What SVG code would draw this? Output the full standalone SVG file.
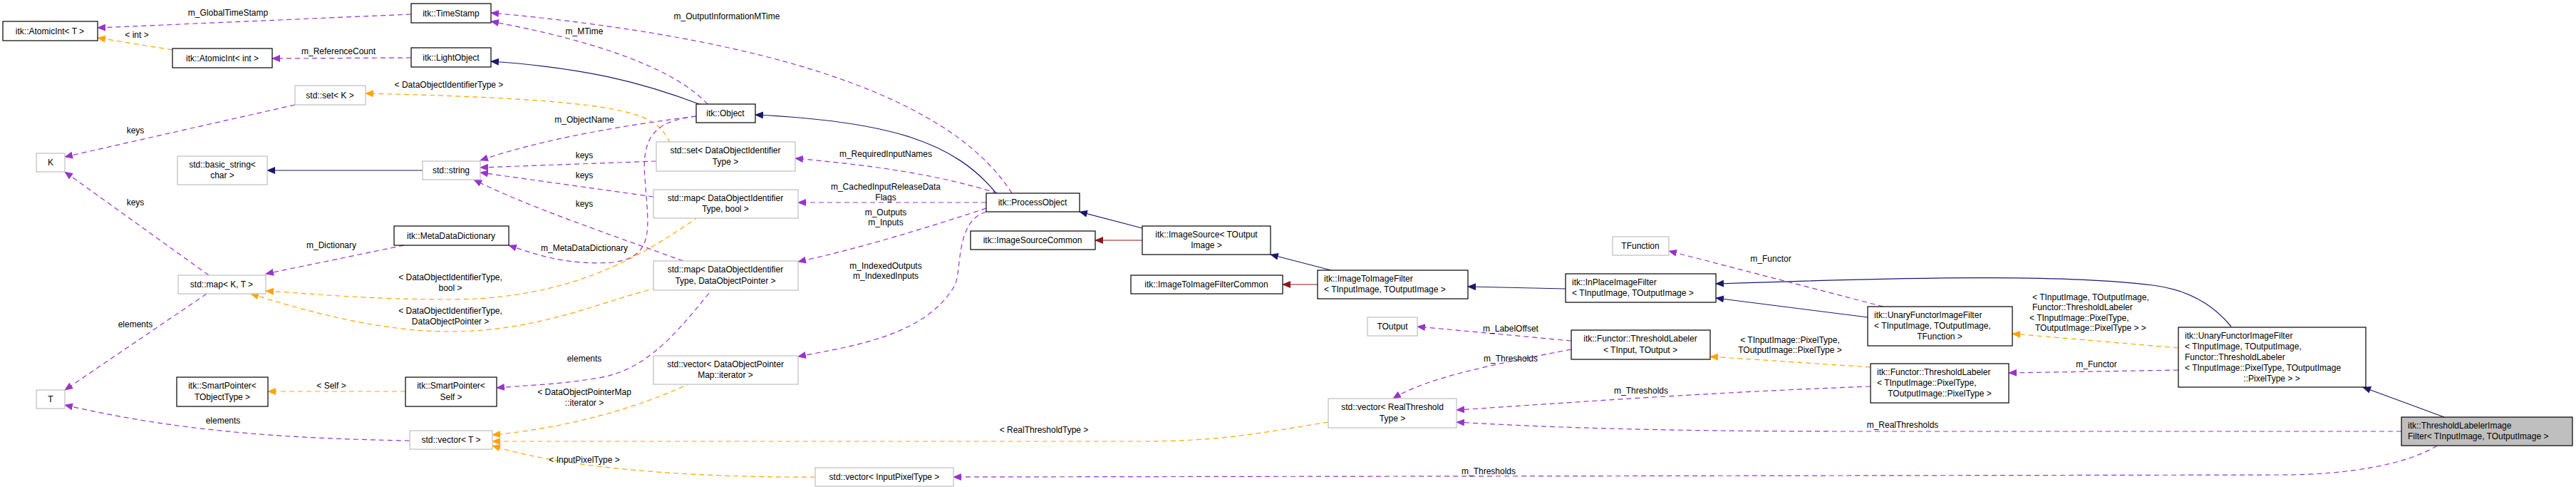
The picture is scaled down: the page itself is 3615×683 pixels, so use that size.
<svg xmlns="http://www.w3.org/2000/svg" width="3615" height="683" viewBox="0 0 3615 683">
<style>
text{font-family:"Liberation Sans",Arial,sans-serif;font-size:12px;fill:#000}
.c{text-anchor:middle}
.b{fill:#fff;stroke:#000;stroke-width:1.2}
.g{fill:#fff;stroke:#bfbfbf;stroke-width:1.2}
.h{fill:#bfbfbf;stroke:#000;stroke-width:1.2}
.u{fill:none;stroke:#9a32cd;stroke-width:1.2;stroke-dasharray:7,5}
.t{fill:none;stroke:#ffa500;stroke-width:1.2;stroke-dasharray:7,5}
.i{fill:none;stroke:#191970;stroke-width:1.2}
.r{fill:none;stroke:#8b1a1a;stroke-width:1.2}
</style>
<defs>
<marker id="mu" markerWidth="12" markerHeight="10" refX="11" refY="5" orient="auto" markerUnits="userSpaceOnUse"><path d="M0,0L12,5L0,10z" fill="#9a32cd"/></marker>
<marker id="mt" markerWidth="12" markerHeight="10" refX="11" refY="5" orient="auto" markerUnits="userSpaceOnUse"><path d="M0,0L12,5L0,10z" fill="#ffa500"/></marker>
<marker id="mi" markerWidth="12" markerHeight="10" refX="11" refY="5" orient="auto" markerUnits="userSpaceOnUse"><path d="M0,0L12,5L0,10z" fill="#191970"/></marker>
<marker id="mr" markerWidth="12" markerHeight="10" refX="11" refY="5" orient="auto" markerUnits="userSpaceOnUse"><path d="M0,0L12,5L0,10z" fill="#8b1a1a"/></marker>
</defs>
<g id="edges">
<path class="u" marker-end="url(#mu)" d="M577,20 L137,39"/>
<text class="c" x="320" y="22">m_GlobalTimeStamp</text>
<path class="t" marker-end="url(#mt)" d="M242,70 L137,53"/>
<text class="c" x="192" y="53">&lt; int &gt;</text>
<path class="u" marker-end="url(#mu)" d="M577,81 L382,82"/>
<text class="c" x="475" y="76">m_ReferenceCount</text>
<path class="i" marker-end="url(#mi)" d="M984,147 C900,115 820,95 689,86"/>
<path class="u" marker-end="url(#mu)" d="M993,146 C950,100 850,60 689,30"/>
<text class="c" x="820" y="48">m_MTime</text>
<path class="u" marker-end="url(#mu)" d="M1420,271 C1350,160 1150,60 689,18"/>
<text class="c" x="1020" y="27">m_OutputInformationMTime</text>
<path class="i" marker-end="url(#mi)" d="M1398,271 C1340,200 1250,170 1060,161"/>
<path class="t" marker-end="url(#mt)" d="M940,200 C920,160 900,140 513,131"/>
<text class="c" x="630" y="123">&lt; DataObjectIdentifierType &gt;</text>
<path class="u" marker-end="url(#mu)" d="M414,147 L91,220"/>
<text class="c" x="190" y="187">keys</text>
<path class="u" marker-end="url(#mu)" d="M293,386 L91,241"/>
<text class="c" x="190" y="288">keys</text>
<path class="i" marker-end="url(#mi)" d="M593,239 L375,239"/>
<path class="u" marker-end="url(#mu)" d="M977,163 C880,175 760,195 674,225"/>
<text class="c" x="820" y="172">m_ObjectName</text>
<path class="u" marker-end="url(#mu)" d="M921,226 L674,235"/>
<text class="c" x="820" y="222">keys</text>
<path class="u" marker-end="url(#mu)" d="M917,276 L674,242"/>
<text class="c" x="820" y="250">keys</text>
<path class="u" marker-end="url(#mu)" d="M970,370 C860,330 740,290 665,252"/>
<text class="c" x="820" y="290">keys</text>
<path class="u" marker-end="url(#mu)" d="M977,163 C920,170 900,190 905,250 C910,320 920,360 860,368 C800,372 760,360 714,344"/>
<text class="c" x="820" y="352">m_MetaDataDictionary</text>
<path class="u" marker-end="url(#mu)" d="M567,344 L373,384"/>
<text class="c" x="465" y="348">m_Dictionary</text>
<path class="t" marker-end="url(#mt)" d="M980,304 C900,360 800,420 630,420 C520,420 440,412 373,408"/>
<text class="c" x="632" y="393">&lt; DataObjectIdentifierType,</text>
<text class="c" x="632" y="408">bool &gt;</text>
<path class="t" marker-end="url(#mt)" d="M922,404 C850,420 760,465 630,465 C540,465 440,440 352,412"/>
<text class="c" x="632" y="440">&lt; DataObjectIdentifierType,</text>
<text class="c" x="632" y="455">DataObjectPointer &gt;</text>
<path class="u" marker-end="url(#mu)" d="M290,412 L91,547"/>
<text class="c" x="190" y="459">elements</text>
<path class="u" marker-end="url(#mu)" d="M575,618 C400,615 250,605 91,568"/>
<text class="c" x="313" y="594">elements</text>
<path class="t" marker-end="url(#mt)" d="M569,549 L376,549"/>
<text class="c" x="465" y="545">&lt; Self &gt;</text>
<path class="u" marker-end="url(#mu)" d="M995,411 C940,480 900,520 840,530 C780,540 740,540 697,544"/>
<text class="c" x="820" y="507">elements</text>
<path class="t" marker-end="url(#mt)" d="M970,537 C900,570 800,600 691,610"/>
<text class="c" x="820" y="554">&lt; DataObjectPointerMap</text>
<text class="c" x="820" y="569">::iterator &gt;</text>
<path class="t" marker-end="url(#mt)" d="M1864,592 C1780,605 1720,619 1600,619 L691,619"/>
<text class="c" x="1465" y="607">&lt; RealThresholdType &gt;</text>
<path class="t" marker-end="url(#mt)" d="M1144,669 C1000,670 800,660 691,625"/>
<text class="c" x="820" y="649">&lt; InputPixelType &gt;</text>
<path class="u" marker-end="url(#mu)" d="M1400,271 C1300,240 1200,230 1116,222"/>
<text class="c" x="1243" y="220">m_RequiredInputNames</text>
<path class="u" marker-end="url(#mu)" d="M1384,284 L1120,284"/>
<text class="c" x="1243" y="266">m_CachedInputReleaseData</text>
<text class="c" x="1243" y="281">Flags</text>
<path class="u" marker-end="url(#mu)" d="M1384,292 C1300,320 1200,350 1120,367"/>
<text class="c" x="1243" y="302">m_Outputs</text>
<text class="c" x="1243" y="316">m_Inputs</text>
<path class="u" marker-end="url(#mu)" d="M1384,297 C1340,310 1350,380 1340,400 C1300,470 1200,485 1120,500"/>
<text class="c" x="1243" y="377">m_IndexedOutputs</text>
<text class="c" x="1243" y="391">m_IndexedInputs</text>
<path class="i" marker-end="url(#mi)" d="M1603,320 L1515,297"/>
<path class="r" marker-end="url(#mr)" d="M1603,337 L1537,337"/>
<path class="i" marker-end="url(#mi)" d="M1868,379 L1783,357"/>
<path class="r" marker-end="url(#mr)" d="M1849,399 L1800,399"/>
<path class="i" marker-end="url(#mi)" d="M2197,405 L2060,402"/>
<path class="i" marker-end="url(#mi)" d="M2621,445 L2408,418"/>
<path class="i" marker-end="url(#mi)" d="M3131,458 C3100,420 3060,405 3021,400 C2900,385 2700,388 2408,398"/>
<path class="u" marker-end="url(#mu)" d="M2643,430 L2342,352"/>
<text class="c" x="2485" y="367">m_Functor</text>
<path class="t" marker-end="url(#mt)" d="M3057,488 L2824,468"/>
<text x="2852" y="421">&lt; TInputImage, TOutputImage,</text>
<text x="2852" y="435">Functor::ThresholdLabeler</text>
<text x="2848" y="450">&lt; TInputImage::PixelType,</text>
<text x="2856" y="464">TOutputImage::PixelType &gt; &gt;</text>
<path class="u" marker-end="url(#mu)" d="M3057,519 L2819,523"/>
<text class="c" x="2942" y="515">m_Functor</text>
<path class="t" marker-end="url(#mt)" d="M2625,515 L2400,500"/>
<text class="c" x="2512" y="481">&lt; TInputImage::PixelType,</text>
<text class="c" x="2512" y="495">TOutputImage::PixelType &gt;</text>
<path class="u" marker-end="url(#mu)" d="M2205,478 L1989,458"/>
<text class="c" x="2120" y="465">m_LabelOffset</text>
<path class="u" marker-end="url(#mu)" d="M2205,490 C2100,510 2000,530 1955,559"/>
<text class="c" x="2120" y="507">m_Thresholds</text>
<path class="u" marker-end="url(#mu)" d="M2625,542 C2400,550 2200,565 2044,575"/>
<text class="c" x="2303" y="552">m_Thresholds</text>
<path class="u" marker-end="url(#mu)" d="M3370,605 L2600,605 C2300,605 2150,598 2044,592"/>
<text class="c" x="2670" y="600">m_RealThresholds</text>
<path class="u" marker-end="url(#mu)" d="M3420,625 C3380,650 3300,666 3200,666 L1338,669"/>
<text class="c" x="2089" y="665">m_Thresholds</text>
<path class="i" marker-end="url(#mi)" d="M3430,585 L3316,543"/>
</g>
<g id="n1"><rect class="b" x="4" y="30" width="133" height="27"/><text class="c" x="70" y="48">itk::AtomicInt&lt; T &gt;</text></g>
<g id="n2"><rect class="b" x="577" y="5" width="112" height="27"/><text class="c" x="633" y="23">itk::TimeStamp</text></g>
<g id="n3"><rect class="b" x="242" y="68" width="140" height="27"/><text class="c" x="312" y="86">itk::AtomicInt&lt; int &gt;</text></g>
<g id="n4"><rect class="b" x="577" y="67" width="112" height="27"/><text class="c" x="633" y="85">itk::LightObject</text></g>
<g id="n5"><rect class="g" x="414" y="120" width="99" height="27"/><text class="c" x="463" y="138">std::set&lt; K &gt;</text></g>
<g id="n6"><rect class="g" x="51" y="215" width="40" height="26"/><text class="c" x="71" y="232">K</text></g>
<g id="n7"><rect class="g" x="249" y="219" width="126" height="40"/><text class="c" x="312" y="235">std::basic_string&lt;</text><text class="c" x="312" y="250">char &gt;</text></g>
<g id="n8"><rect class="g" x="593" y="226" width="81" height="26"/><text class="c" x="633" y="243">std::string</text></g>
<g id="n9"><rect class="b" x="553" y="317" width="161" height="27"/><text class="c" x="633" y="335">itk::MetaDataDictionary</text></g>
<g id="n10"><rect class="g" x="250" y="386" width="123" height="26"/><text class="c" x="311" y="403">std::map&lt; K, T &gt;</text></g>
<g id="n11"><rect class="g" x="51" y="547" width="40" height="26"/><text class="c" x="71" y="564">T</text></g>
<g id="n12"><rect class="b" x="248" y="529" width="128" height="41"/><text class="c" x="312" y="545">itk::SmartPointer&lt;</text><text class="c" x="312" y="561">TObjectType &gt;</text></g>
<g id="n13"><rect class="b" x="569" y="529" width="128" height="41"/><text class="c" x="633" y="545">itk::SmartPointer&lt;</text><text class="c" x="633" y="561">Self &gt;</text></g>
<g id="n14"><rect class="g" x="575" y="604" width="116" height="26"/><text class="c" x="633" y="621">std::vector&lt; T &gt;</text></g>
<g id="n15"><rect class="b" x="977" y="146" width="83" height="26"/><text class="c" x="1018" y="163">itk::Object</text></g>
<g id="n16"><rect class="g" x="921" y="199" width="195" height="41"/><text class="c" x="1018" y="215">std::set&lt; DataObjectIdentifier</text><text class="c" x="1018" y="231">Type &gt;</text></g>
<g id="n17"><rect class="g" x="917" y="266" width="203" height="40"/><text class="c" x="1018" y="282">std::map&lt; DataObjectIdentifier</text><text class="c" x="1018" y="297">Type, bool &gt;</text></g>
<g id="n18"><rect class="g" x="917" y="366" width="203" height="41"/><text class="c" x="1018" y="382">std::map&lt; DataObjectIdentifier</text><text class="c" x="1018" y="398">Type, DataObjectPointer &gt;</text></g>
<g id="n19"><rect class="g" x="917" y="499" width="203" height="40"/><text class="c" x="1018" y="515">std::vector&lt; DataObjectPointer</text><text class="c" x="1018" y="530">Map::iterator &gt;</text></g>
<g id="n20"><rect class="g" x="1144" y="656" width="194" height="26"/><text class="c" x="1241" y="673">std::vector&lt; InputPixelType &gt;</text></g>
<g id="n21"><rect class="b" x="1384" y="271" width="131" height="26"/><text class="c" x="1449" y="288">itk::ProcessObject</text></g>
<g id="n22"><rect class="b" x="1362" y="324" width="175" height="26"/><text class="c" x="1449" y="341">itk::ImageSourceCommon</text></g>
<g id="n23"><rect class="b" x="1603" y="317" width="180" height="40"/><text class="c" x="1693" y="333">itk::ImageSource&lt; TOutput</text><text class="c" x="1693" y="348">Image &gt;</text></g>
<g id="n24"><rect class="b" x="1587" y="386" width="213" height="26"/><text class="c" x="1693" y="403">itk::ImageToImageFilterCommon</text></g>
<g id="n25"><rect class="b" x="1849" y="379" width="211" height="40"/><text x="1858" y="395">itk::ImageToImageFilter</text><text x="1858" y="410">&lt; TInputImage, TOutputImage &gt;</text></g>
<g id="n26"><rect class="g" x="1919" y="445" width="70" height="26"/><text class="c" x="1954" y="462">TOutput</text></g>
<g id="n27"><rect class="g" x="1864" y="559" width="180" height="41"/><text class="c" x="1954" y="575">std::vector&lt; RealThreshold</text><text class="c" x="1954" y="591">Type &gt;</text></g>
<g id="n28"><rect class="g" x="2263" y="332" width="79" height="26"/><text class="c" x="2302" y="349">TFunction</text></g>
<g id="n29"><rect class="b" x="2197" y="384" width="211" height="40"/><text x="2206" y="400">itk::InPlaceImageFilter</text><text x="2206" y="415">&lt; TInputImage, TOutputImage &gt;</text></g>
<g id="n30"><rect class="b" x="2205" y="463" width="195" height="41"/><text class="c" x="2302" y="479">itk::Functor::ThresholdLabeler</text><text class="c" x="2302" y="495">&lt; TInput, TOutput &gt;</text></g>
<g id="n31"><rect class="b" x="2621" y="430" width="203" height="55"/><text x="2630" y="446">itk::UnaryFunctorImageFilter</text><text x="2630" y="461">&lt; TInputImage, TOutputImage,</text><text class="c" x="2722" y="476">TFunction &gt;</text></g>
<g id="n32"><rect class="b" x="2625" y="510" width="194" height="55"/><text x="2634" y="526">itk::Functor::ThresholdLabeler</text><text x="2634" y="541">&lt; TInputImage::PixelType,</text><text class="c" x="2722" y="556">TOutputImage::PixelType &gt;</text></g>
<g id="n33"><rect class="b" x="3057" y="459" width="263" height="84"/><text x="3066" y="475">itk::UnaryFunctorImageFilter</text><text x="3066" y="490">&lt; TInputImage, TOutputImage,</text><text x="3066" y="505">Functor::ThresholdLabeler</text><text x="3066" y="520">&lt; TInputImage::PixelType, TOutputImage</text><text class="c" x="3188" y="535">::PixelType &gt; &gt;</text></g>
<g id="n34"><rect class="h" x="3370" y="585" width="240" height="40"/><text x="3379" y="601">itk::ThresholdLabelerImage</text><text x="3379" y="616">Filter&lt; TInputImage, TOutputImage &gt;</text></g>
</svg>
